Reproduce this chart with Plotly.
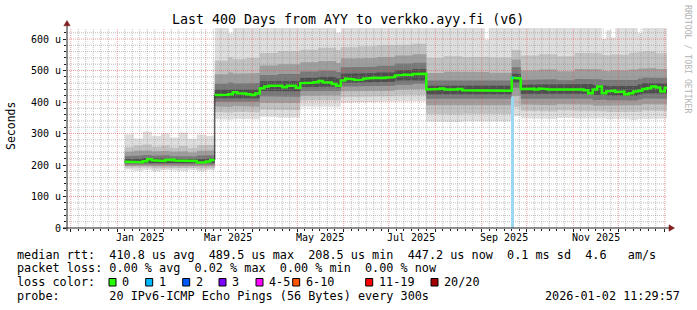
import datetime as dt
import plotly.graph_objects as go

# ------------------------------------------------------------------ data
range_start = dt.datetime(2024, 11, 28, 11, 29, 57)
range_end = dt.datetime(2026, 1, 2, 11, 29, 57)
series_start = dt.datetime(2025, 1, 6)
step_days = 3

# median RTT (microseconds), one value per 3-day step starting 2025-01-06
median_us = [
    210, 210, 211, 209, 212, 218, 215, 214, 213, 216,
    217, 214, 213, 212, 213, 213, 208, 209, 211, 216,
    422, 421, 423, 425, 431, 428, 427, 425, 422, 427,
    444, 449, 452, 454, 452, 447, 452, 452, 445,
    460, 461, 461, 463, 467, 463, 462, 457, 452,
    468, 474, 472, 470, 471, 474, 476, 477, 475, 476,
    478, 479, 484, 486, 487, 486, 489, 488, 490,
    440, 439, 441, 443, 440, 438, 440, 441, 437, 436,
    436, 437, 438, 437, 438, 437, 438, 437, 436,
    477, 475,
    441, 443, 442, 440, 443, 441, 440, 439, 440, 439,
    440, 439, 441, 440, 437, 428, 440, 449, 428, 434,
    436, 432, 433, 425, 428, 433, 436, 441, 444, 449,
    446, 433, 445, 445,
]
# step index where the coloured median is interrupted
median_breaks = [20]

# smoke (ping distribution) at step indices
smoke_idx = [0, 2, 4, 6, 8, 10, 12, 14, 16, 18, 20, 23, 24, 27, 30, 34, 39, 43, 47,
             48, 52, 56, 60, 64, 67, 71, 75, 80, 81, 86,
             88, 92, 96, 100, 104, 106, 107, 108, 109, 112, 114, 115, 118]
smoke_min = [186, 182, 185, 180, 184, 183, 181, 184, 180, 183, 346, 344, 347, 345, 353, 350, 386, 384, 385,
             398, 400, 401, 402, 403, 338, 336, 339, 337, 338, 355,
             348, 346, 349, 347, 346, 348, 345, 346, 347, 344, 346, 348, 347]
smoke_lo2 = [192, 190, 192, 189, 191, 190, 189, 191, 188, 190, 368, 366, 369, 367, 376, 374, 405, 404, 405,
             417, 418, 419, 421, 422, 362, 360, 363, 361, 362, 385,
             372, 370, 373, 371, 369, 371, 368, 370, 370, 368, 369, 372, 371]
smoke_lo3 = [197, 196, 198, 196, 197, 196, 196, 197, 195, 196, 386, 384, 387, 385, 398, 397, 420, 420, 421,
             434, 435, 436, 439, 441, 390, 389, 391, 390, 390, 420,
             392, 390, 393, 391, 388, 390, 388, 390, 389, 388, 390, 393, 392]
smoke_lo4 = [202, 202, 203, 202, 203, 202, 202, 202, 201, 202, 401, 400, 402, 401, 418, 417, 435, 436, 435,
             449, 450, 452, 455, 458, 410, 409, 410, 410, 410, 445,
             410, 409, 411, 410, 406, 408, 406, 407, 407, 405, 408, 411, 410]
smoke_lo5 = [206, 206, 207, 206, 207, 206, 205, 206, 205, 206, 412, 412, 413, 412, 435, 434, 448, 449, 446,
             461, 462, 464, 468, 470, 425, 424, 425, 425, 425, 462,
             426, 425, 427, 426, 422, 423, 421, 422, 421, 420, 424, 428, 427]
smoke_hi5 = [219, 220, 222, 220, 221, 220, 219, 218, 219, 221, 440, 442, 441, 440, 466, 467, 477, 480, 475,
             490, 492, 494, 502, 505, 452, 453, 452, 452, 452, 490,
             455, 456, 455, 457, 454, 452, 450, 452, 451, 451, 456, 460, 458]
smoke_hi4 = [228, 230, 232, 229, 231, 228, 229, 227, 230, 231, 458, 462, 459, 460, 486, 489, 497, 500, 495,
             510, 512, 515, 522, 525, 468, 470, 468, 469, 468, 510,
             470, 472, 469, 473, 472, 470, 468, 470, 469, 470, 474, 478, 476]
smoke_hi3 = [242, 245, 246, 243, 245, 242, 244, 240, 245, 246, 488, 494, 490, 492, 516, 520, 526, 530, 524,
             538, 540, 543, 548, 552, 492, 496, 494, 495, 493, 535,
             500, 503, 498, 505, 504, 500, 498, 501, 500, 503, 506, 508, 505]
smoke_hi2 = [256, 262, 265, 258, 262, 255, 260, 254, 262, 264, 532, 542, 536, 540, 556, 562, 566, 572, 565,
             574, 577, 580, 582, 585, 540, 545, 542, 544, 541, 565,
             548, 552, 545, 556, 555, 550, 548, 552, 550, 556, 558, 560, 555]
smoke_max = [298, 284, 306, 292, 301, 287, 303, 283, 297, 292, 635, 618, 635, 635, 635, 635, 635, 635, 620,
             635, 635, 635, 635, 635, 635, 635, 635, 598, 635, 635,
             635, 635, 635, 635, 635, 600, 628, 605, 635, 635, 618, 635, 635]

# packet loss events
loss_start = [dt.datetime(2025, 9, 21)]
loss_days = [1]
loss_bar_start = [dt.datetime(2025, 9, 20, 12)]
loss_bar_days = [2]
loss_bar_top = [417]

y_tick_vals = [0, 100, 200, 300, 400, 500, 600]
y_tick_text = ["0", "100 u", "200 u", "300 u", "400 u", "500 u", "600 u"]
month_label_dates = [dt.datetime(2025, m, 16) for m in (1, 3, 5, 7, 9, 11)]
month_labels = ["Jan 2025", "Mar 2025", "May 2025", "Jul 2025", "Sep 2025", "Nov 2025"]

title = "Last 400 Days from AYY to verkko.ayy.fi (v6)"
legend_lines = [
    "median rtt:  410.8 us avg  489.5 us max  208.5 us min  447.2 us now  0.1 ms sd  4.6   am/s",
    "packet loss: 0.00 % avg  0.02 % max  0.00 % min  0.00 % now",
    "loss color:",
    "probe:       20 IPv6-ICMP Echo Pings (56 Bytes) every 300s",
]
loss_labels = ["0", "1", "2", "3", "4-5", "6-10", "11-19", "20/20"]
loss_colors = ["#26ff00", "#00b8ff", "#0059ff", "#7e00ff", "#ff00ff", "#ff5500", "#ff0000", "#a10000"]
timestamp = "2026-01-02 11:29:57"

# ------------------------------------------------------------------ layout constants
W, H = 697, 310
L, T, PW, PH = 67, 28, 600, 200
Y_TOP = 635
MONO = "DejaVu Sans Mono"


def px(x):
    return (x - L) / PW


def py(y):
    return (T + PH - y) / PH


def t(i):
    return series_start + dt.timedelta(days=step_days * i)


n_steps = len(median_us)
fig = go.Figure()

# ------------------------------------------------------------------ smoke bands
shades = ["#dedede", "#c2c2c2", "#9e9e9e", "#787878", "#4e4e4e"]
lows = [smoke_min, smoke_lo2, smoke_lo3, smoke_lo4, smoke_lo5]
highs = [smoke_max, smoke_hi2, smoke_hi3, smoke_hi4, smoke_hi5]
ends = smoke_idx[1:] + [n_steps]
for lo, hi, col in zip(lows, highs, shades):
    xs, ys = [], []
    for k, i0 in enumerate(smoke_idx):
        xs += [t(i0), t(ends[k])]
        ys += [hi[k], hi[k]]
    for k in reversed(range(len(smoke_idx))):
        xs += [t(ends[k]), t(smoke_idx[k])]
        ys += [lo[k], lo[k]]
    fig.add_trace(go.Scatter(x=xs, y=ys, mode="lines", fill="toself", fillcolor=col,
                             line=dict(width=0, color=col), hoverinfo="skip"))

# ------------------------------------------------------------------ grid (drawn over the smoke)
major_dates, minor_dates = [], []
y, m = 2024, 11
while (y, m) <= (2026, 1):
    d0 = dt.datetime(y, m, 1)
    if range_start <= d0 <= range_end:
        major_dates.append(d0)
    for day in (6, 11, 16, 21, 26):
        d = dt.datetime(y, m, day)
        if range_start <= d <= range_end:
            minor_dates.append(d)
    m += 1
    if m > 12:
        m, y = 1, y + 1
minor_y = [v for v in range(20, Y_TOP, 20) if v % 100]
major_y = list(range(100, Y_TOP, 100))


def vlines(dates):
    xs, ys = [], []
    for d in dates:
        xs += [d, d, None]
        ys += [0, Y_TOP, None]
    return xs, ys


def hlines(vals):
    xs, ys = [], []
    for v in vals:
        xs += [range_start, range_end, None]
        ys += [v, v, None]
    return xs, ys


for (xs, ys), col in [(vlines(minor_dates), "rgba(140,140,140,0.55)"),
                      (hlines(minor_y), "rgba(140,140,140,0.55)"),
                      (vlines(major_dates), "rgba(225,80,80,0.55)"),
                      (hlines(major_y), "rgba(225,80,80,0.55)")]:
    fig.add_trace(go.Scatter(x=xs, y=ys, mode="lines", line=dict(width=1, color=col, dash="1px,1px"),
                             hoverinfo="skip", connectgaps=False))

# ------------------------------------------------------------------ loss bar
for s, dd, top in zip(loss_bar_start, loss_bar_days, loss_bar_top):
    e = s + dt.timedelta(days=dd)
    fig.add_trace(go.Scatter(x=[s, e, e, s], y=[0, 0, top, top], mode="lines", fill="toself",
                             fillcolor="#9ad7f3", line=dict(width=0, color="#9ad7f3"), hoverinfo="skip"))

# ------------------------------------------------------------------ median lines
bx, by = [], []
for i, v in enumerate(median_us):
    bx += [t(i), t(i + 1)]
    by += [v, v]
fig.add_trace(go.Scatter(x=bx, y=by, mode="lines", line=dict(width=1, color="#202020"), hoverinfo="skip"))

gx, gy = [], []
for i, v in enumerate(median_us):
    if i in median_breaks:
        gx.append(None)
        gy.append(None)
    gx += [t(i), t(i + 1)]
    gy += [v, v]
fig.add_trace(go.Scatter(x=gx, y=gy, mode="lines", line=dict(width=2.5, color=loss_colors[0]),
                         hoverinfo="skip", connectgaps=False))

for s, dd in zip(loss_start, loss_days):
    idx = (s - series_start).days // step_days
    e = s + dt.timedelta(days=dd)
    fig.add_trace(go.Scatter(x=[s, e], y=[median_us[idx]] * 2, mode="lines",
                             line=dict(width=2.5, color=loss_colors[1]), hoverinfo="skip"))

# ------------------------------------------------------------------ annotations
ann = []


def text(s, x, y, size, xanchor="left", color="black", angle=0, xref="paper"):
    ann.append(dict(text=s.replace(" ", "\u00a0"), x=x, y=y, xref=xref, yref="paper",
                    xanchor=xanchor, yanchor="middle", showarrow=False, textangle=angle,
                    font=dict(family=MONO, size=size, color=color)))


text(title, px(348), py(19), 13.3, xanchor="center")
text("Seconds", px(10.5), py(126.5), 11.5, xanchor="center", angle=-90)
text("RRDTOOL / TOBI OETIKER", px(688), py(59), 8.2, xanchor="center", color="#b4b4b4", angle=90)
for d, lab in zip(month_label_dates, month_labels):
    ann.append(dict(text=lab, x=d, y=py(237.5), xref="x", yref="paper", xanchor="center",
                    yanchor="middle", showarrow=False, font=dict(family=MONO, size=10, color="black")))
for line, yy in zip(legend_lines, [254.5, 268.2, 282.3, 296.0]):
    text(line, px(14.5), py(yy), 11.8)
text(timestamp, px(682), py(296.0), 11.8, xanchor="right")

box_x = [109, 145.7, 182.7, 219, 256, 292.7, 365.7, 431]
shapes = []
for bxp, lab, col in zip(box_x, loss_labels, loss_colors):
    shapes.append(dict(type="rect", xref="paper", yref="paper", x0=px(bxp), x1=px(bxp + 7),
                       y0=py(286), y1=py(278.5), fillcolor=col, line=dict(color="black", width=1)))
    text(lab, px(bxp + 11), py(282.3), 11.8)

# axes with arrows
axis_col, arrow_col = "#1f1f1f", "#801f1f"
shapes.append(dict(type="line", xref="paper", yref="paper", x0=px(L), x1=px(L), y0=py(231), y1=py(24),
                   line=dict(color=axis_col, width=1)))
shapes.append(dict(type="line", xref="paper", yref="paper", x0=px(63), x1=px(670), y0=py(228), y1=py(228),
                   line=dict(color=axis_col, width=1)))
shapes.append(dict(type="path", xref="paper", yref="paper",
                   path=f"M {px(63.8)} {py(25.8)} L {px(67)} {py(20.5)} L {px(70.2)} {py(25.8)} Z",
                   fillcolor=arrow_col, line=dict(color=arrow_col, width=0.5)))
shapes.append(dict(type="path", xref="paper", yref="paper",
                   path=f"M {px(669)} {py(224.8)} L {px(674.5)} {py(228)} L {px(669)} {py(231.2)} Z",
                   fillcolor=arrow_col, line=dict(color=arrow_col, width=0.5)))

fig.update_layout(
    width=W, height=H,
    margin=dict(l=L, r=W - L - PW, t=T, b=H - T - PH, pad=0),
    paper_bgcolor="white", plot_bgcolor="white",
    showlegend=False,
    font=dict(family=MONO, size=10, color="black"),
    annotations=ann, shapes=shapes,
    xaxis=dict(type="date", range=[range_start, range_end], showgrid=False, zeroline=False,
               showline=False, ticks="outside", tickmode="array", tickvals=major_dates,
               ticklen=3, tickwidth=1, tickcolor=axis_col, showticklabels=False,
               minor=dict(tickmode="array", tickvals=minor_dates, ticks="outside", ticklen=2,
                          tickwidth=1, tickcolor=axis_col, showgrid=False)),
    yaxis=dict(range=[0, Y_TOP], showgrid=False, zeroline=False, showline=False,
               ticks="outside", tickmode="array", tickvals=y_tick_vals, ticktext=y_tick_text,
               ticklen=3, tickwidth=1, tickcolor=axis_col,
               tickfont=dict(family=MONO, size=10, color="black"),
               minor=dict(tickmode="array", tickvals=minor_y, ticks="outside", ticklen=2,
                          tickwidth=1, tickcolor=axis_col, showgrid=False)),
)

fig.write_html("out.html", config={"displayModeBar": False})
